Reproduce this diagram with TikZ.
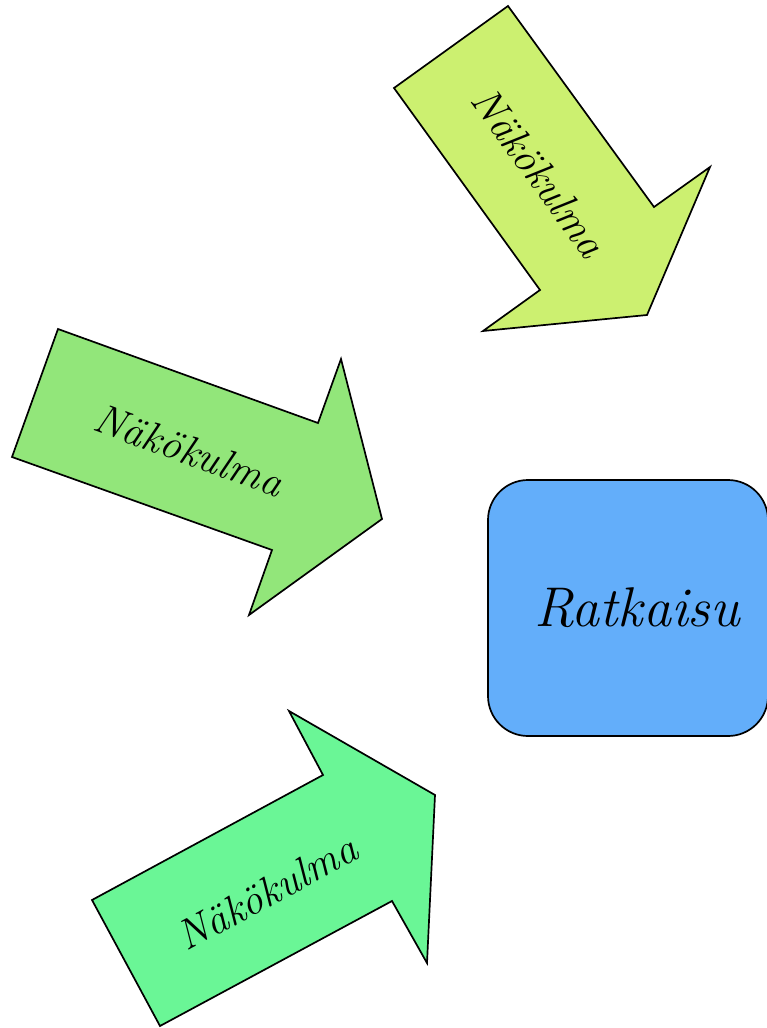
\documentclass[tikz,border=0pt]{standalone}
\begin{document}
\begin{tikzpicture}[x=1pt,y=-1pt,
  arrowshape/.style={draw=black,line width=1.7pt,line join=miter},
  lbl/.style={font=\fontsize{42}{50}\selectfont\itshape,inner sep=0pt},
  boxstyle/.style={draw=black,line width=1.7pt,rounded corners=40pt,fill=boxblue}]
\definecolor{arrowA}{RGB}{204,240,112}
\definecolor{arrowB}{RGB}{146,230,122}
\definecolor{arrowC}{RGB}{106,246,150}
\definecolor{boxblue}{RGB}{99,174,250}
\useasboundingbox (0,0) rectangle (767,1028);
% top arrow
\draw[arrowshape,fill=arrowA] (394,88) -- (508,6) -- (654,207) -- (710,167) -- (647,315) -- (483,331) -- (540,290) -- cycle;
\node[lbl,rotate=-54] (t1) at (539,172) {Näkökulma};
% middle arrow
\draw[arrowshape,fill=arrowB] (58,329) -- (318,423) -- (341,359) -- (382,519) -- (249,615) -- (272,550) -- (12,457) -- cycle;
\node[lbl,rotate=-20] (t2) at (189,450) {Näkökulma};
% bottom arrow
\draw[arrowshape,fill=arrowC] (289,711) -- (435,795) -- (427,963) -- (392,901) -- (160,1026) -- (92,900) -- (323,775) -- cycle;
\node[lbl,rotate=28.4] (t3) at (267,892) {Näkökulma};
% box
\draw[boxstyle] (488,480) rectangle (768,736);
\node[inner sep=0pt,font=\fontsize{56}{62}\selectfont\itshape] (ratkaisu) at (637,608) {Ratkaisu};
\end{tikzpicture}
\end{document}
